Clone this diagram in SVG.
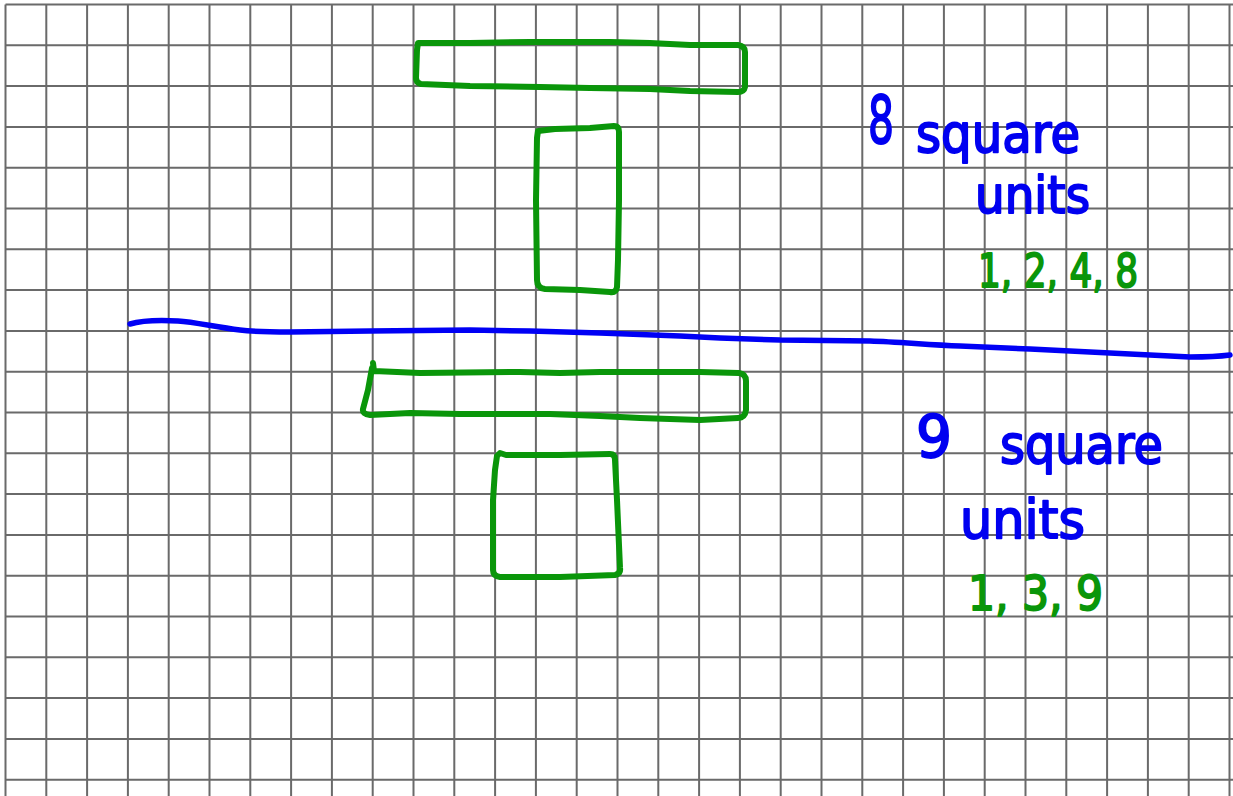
<svg xmlns="http://www.w3.org/2000/svg" width="1233" height="796" viewBox="0 0 1233 796">
<defs>
<style>
.grid{stroke:#6a6a6a;stroke-width:2;fill:none}
.shape{fill:none;stroke:#0a960a;stroke-width:6;stroke-linejoin:round;stroke-linecap:round}
.divider{fill:none;stroke:#0000f5;stroke-width:5.5;stroke-linejoin:round;stroke-linecap:round}
.blue{fill:#0000f0;stroke:#0000f0;stroke-width:2;stroke-linejoin:round;font-family:"DejaVu Sans","Liberation Sans",sans-serif}
.green{fill:#0a960a;stroke:#0a960a;stroke-width:2;stroke-linejoin:round;font-family:"DejaVu Sans","Liberation Sans",sans-serif}
</style>
</defs>
<rect width="1233" height="796" fill="#ffffff"/>
<g id="grid" class="grid">
<path d="M5.5 4.5V796M46.3 4.5V796M87.1 4.5V796M127.9 4.5V796M168.7 4.5V796M209.5 4.5V796M250.3 4.5V796M291.1 4.5V796M331.9 4.5V796M372.7 4.5V796M413.5 4.5V796M454.3 4.5V796M495.1 4.5V796M535.9 4.5V796M576.7 4.5V796M617.5 4.5V796M658.3 4.5V796M699.1 4.5V796M739.9 4.5V796M780.7 4.5V796M821.5 4.5V796M862.3 4.5V796M903.1 4.5V796M943.9 4.5V796M984.7 4.5V796M1025.5 4.5V796M1066.3 4.5V796M1107.1 4.5V796M1147.9 4.5V796M1188.7 4.5V796M1229.5 4.5V796"/>
<path d="M5.5 4.5H1233M5.5 45.3H1233M5.5 86.1H1233M5.5 126.9H1233M5.5 167.7H1233M5.5 208.5H1233M5.5 249.3H1233M5.5 290.1H1233M5.5 330.9H1233M5.5 371.7H1233M5.5 412.5H1233M5.5 453.3H1233M5.5 494.1H1233M5.5 534.9H1233M5.5 575.7H1233M5.5 616.5H1233M5.5 657.3H1233M5.5 698.1H1233M5.5 738.9H1233M5.5 779.7H1233"/>
</g>
<g id="top-bar">
<path class="shape" d="M418,43 L470,43 L530,42 L610,42 L650,43 L690,45 L738,45 Q745,46 745,52 L745,87 Q744,92 738,92 L690,91 L650,89 L590,88 L540,87 L470,86 L421,84 Q416,83 416,78 L417,50 Z"/>
</g>
<g id="top-rect">
<path class="shape" d="M538,131 L555,129 L590,128 L614,126 Q619,126 619,132 L619,200 L618,260 L617,287 Q616,293 610,292 L580,290 L545,289 Q537,288 537,280 L536,200 L537,138 Z"/>
</g>
<g id="top-label">
<text class="blue" x="868" y="143" font-size="66" textLength="26" lengthAdjust="spacingAndGlyphs">8</text>
<text class="blue" x="916" y="152" font-size="54" textLength="164" lengthAdjust="spacingAndGlyphs">square</text>
<text class="blue" x="975" y="213" font-size="52" textLength="115" lengthAdjust="spacingAndGlyphs">units</text>
<text class="green" x="978" y="287" font-size="46" textLength="160" lengthAdjust="spacingAndGlyphs">1, 2, 4, 8</text>
</g>
<g id="connectors">
<path class="divider" d="M130,324 C140,321 160,320 178,321 C195,322 215,327 240,330 C255,332 265,332 290,332 L370,331 L470,330 L530,331 L600,333 L680,336 L720,338 L780,340 L870,341 C900,342 930,345 960,346 L1030,349 L1090,352 L1150,355 L1190,357 C1205,357 1215,357 1230,355"/>
</g>
<g id="bottom-bar">
<path class="shape" d="M373,363 L374,371 L420,373 L520,372 L560,373 L600,372 L650,372 L700,372 L739,373 Q746,374 746,381 L746,410 Q745,418 738,418 L700,420 L640,418 L600,416 L550,414 L460,414 L410,413 L370,415 Q362,414 363,409 L368,390 L372,368"/>
</g>
<g id="bottom-square">
<path class="shape" d="M500,453 L506,455 L560,455 L610,454 Q615,454 615,460 L617,500 L620,568 Q621,574 615,575 L560,577 L500,577 Q493,576 493,570 L493,500 L495,470 L497,456 Z"/>
</g>
<g id="bottom-label">
<text class="blue" x="916" y="457" font-size="58" textLength="36" lengthAdjust="spacingAndGlyphs">9</text>
<text class="blue" x="1000" y="463" font-size="54" textLength="163" lengthAdjust="spacingAndGlyphs">square</text>
<text class="blue" x="960" y="538" font-size="54" textLength="125" lengthAdjust="spacingAndGlyphs">units</text>
<text class="green" x="968" y="610" font-size="48" textLength="135" lengthAdjust="spacingAndGlyphs">1, 3, 9</text>
</g>
</svg>
